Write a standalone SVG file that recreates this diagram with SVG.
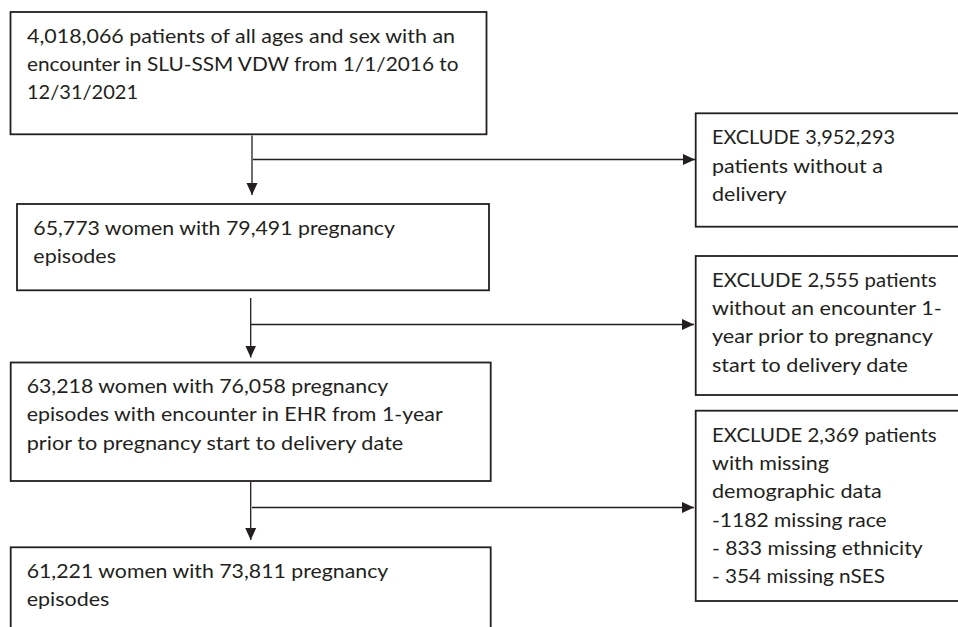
<svg xmlns="http://www.w3.org/2000/svg" width="958" height="627" viewBox="0 0 958 627">
<defs>
<style>
.box{fill:#ffffff;stroke:#231f20;stroke-width:1.8}
.t{font-family:Lato,"Open Sans","Liberation Sans",sans-serif;font-size:18.4px;fill:#231f20}
.c{fill:none;stroke:#231f20;stroke-width:1.3}
</style>
<marker id="ah" markerUnits="userSpaceOnUse" markerWidth="12" markerHeight="12" viewBox="0 0 12 12" refX="12" refY="6" orient="auto">
<path d="M0,0.5 L12,6 L0,11.5 Z" fill="#231f20"/>
</marker>
</defs>
<rect width="958" height="627" fill="#ffffff"/>

<g id="connectors">
<path class="c" d="M252,135.5 V195" marker-end="url(#ah)"/>
<path class="c" d="M253,159.5 H695" marker-end="url(#ah)"/>
<path class="c" d="M250.7,298 V357.5" marker-end="url(#ah)"/>
<path class="c" d="M251,324.5 H694" marker-end="url(#ah)"/>
<path class="c" d="M250.7,482 V540" marker-end="url(#ah)"/>
<path class="c" d="M252,507.5 H694" marker-end="url(#ah)"/>
</g>

<g id="node1">
<rect class="box" x="10.5" y="12" width="476" height="122.3"/>
<text class="t" x="27" y="42.6" textLength="428" lengthAdjust="spacingAndGlyphs">4,018,066 patients of all ages and sex with an</text>
<text class="t" x="27" y="71" textLength="431.5" lengthAdjust="spacingAndGlyphs">encounter in SLU-SSM VDW from 1/1/2016 to</text>
<text class="t" x="27" y="99.4" textLength="111" lengthAdjust="spacingAndGlyphs">12/31/2021</text>
</g>

<g id="node2">
<rect class="box" x="17" y="204" width="472" height="86.3"/>
<text class="t" x="33.3" y="234.6" textLength="361.7" lengthAdjust="spacingAndGlyphs">65,773 women with 79,491 pregnancy</text>
<text class="t" x="33.3" y="263" textLength="82.7" lengthAdjust="spacingAndGlyphs">episodes</text>
</g>

<g id="node3">
<rect class="box" x="10.7" y="362.5" width="480" height="118.5"/>
<text class="t" x="26.7" y="392.7" textLength="361.6" lengthAdjust="spacingAndGlyphs">63,218 women with 76,058 pregnancy</text>
<text class="t" x="26.7" y="421.3" textLength="416" lengthAdjust="spacingAndGlyphs">episodes with encounter in EHR from 1-year</text>
<text class="t" x="26.7" y="449.8" textLength="376.6" lengthAdjust="spacingAndGlyphs">prior to pregnancy start to delivery date</text>
</g>

<g id="node4">
<rect class="box" x="10.7" y="547.3" width="480" height="100"/>
<text class="t" x="26.7" y="577.7" textLength="361.6" lengthAdjust="spacingAndGlyphs">61,221 women with 73,811 pregnancy</text>
<text class="t" x="26.7" y="606" textLength="82.6" lengthAdjust="spacingAndGlyphs">episodes</text>
</g>

<g id="exclude1">
<rect class="box" x="695.7" y="113.3" width="280" height="113.4"/>
<text class="t" x="712" y="144.2" textLength="183" lengthAdjust="spacingAndGlyphs">EXCLUDE 3,952,293</text>
<text class="t" x="712" y="172.6" textLength="171" lengthAdjust="spacingAndGlyphs">patients without a</text>
<text class="t" x="712" y="200.9" textLength="74.7" lengthAdjust="spacingAndGlyphs">delivery</text>
</g>

<g id="exclude2">
<rect class="box" x="695.7" y="256" width="280" height="139"/>
<text class="t" x="712" y="286.8" textLength="224.7" lengthAdjust="spacingAndGlyphs">EXCLUDE 2,555 patients</text>
<text class="t" x="712" y="315.1" textLength="229.7" lengthAdjust="spacingAndGlyphs">without an encounter 1-</text>
<text class="t" x="712" y="343.4" textLength="221" lengthAdjust="spacingAndGlyphs">year prior to pregnancy</text>
<text class="t" x="712" y="371.7" textLength="196" lengthAdjust="spacingAndGlyphs">start to delivery date</text>
</g>

<g id="exclude3">
<rect class="box" x="695.7" y="410.7" width="280" height="190.3"/>
<text class="t" x="712" y="441.7" textLength="224.7" lengthAdjust="spacingAndGlyphs">EXCLUDE 2,369 patients</text>
<text class="t" x="712" y="470" textLength="117" lengthAdjust="spacingAndGlyphs">with missing</text>
<text class="t" x="712" y="498.3" textLength="169.7" lengthAdjust="spacingAndGlyphs">demographic data</text>
<text class="t" x="712" y="526.7" textLength="174.7" lengthAdjust="spacingAndGlyphs">-1182 missing race</text>
<text class="t" x="712" y="555" textLength="210.7" lengthAdjust="spacingAndGlyphs">- 833 missing ethnicity</text>
<text class="t" x="712" y="583.3" textLength="173" lengthAdjust="spacingAndGlyphs">- 354 missing nSES</text>
</g>
</svg>
